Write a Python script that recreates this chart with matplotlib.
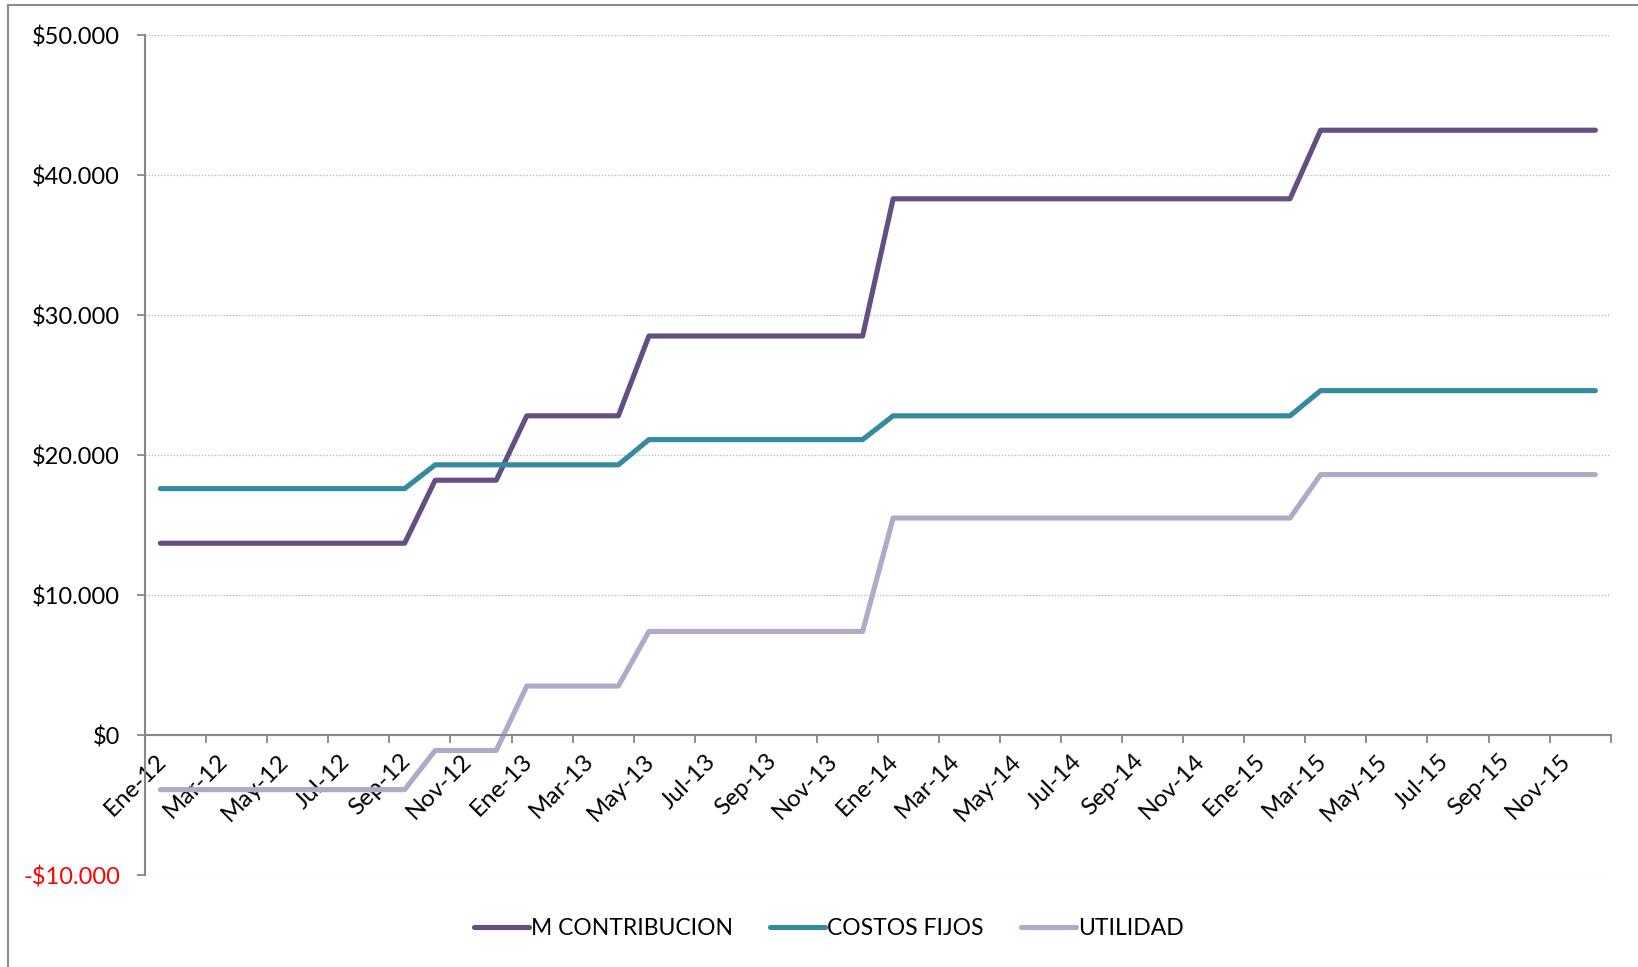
import matplotlib
matplotlib.use("Agg")
import matplotlib.pyplot as plt
from matplotlib.lines import Line2D
from matplotlib.ticker import FuncFormatter
from matplotlib.transforms import ScaledTranslation
import numpy as np

plt.rcParams["font.family"] = ["Lato", "DejaVu Sans"]

MONTHS = ["Ene", "Feb", "Mar", "Abr", "May", "Jun",
          "Jul", "Ago", "Sep", "Oct", "Nov", "Dic"]
YEARS = ["12", "13", "14", "15"]
PERIODS = [f"{m}-{y}" for y in YEARS for m in MONTHS]

M_CONTRIBUCION = [
    13700, 13700, 13700, 13700, 13700, 13700, 13700, 13700, 13700, 18200, 18200, 18200,
    22800, 22800, 22800, 22800, 28500, 28500, 28500, 28500, 28500, 28500, 28500, 28500,
    38300, 38300, 38300, 38300, 38300, 38300, 38300, 38300, 38300, 38300, 38300, 38300,
    38300, 38300, 43200, 43200, 43200, 43200, 43200, 43200, 43200, 43200, 43200, 43200,
]
COSTOS_FIJOS = [
    17600, 17600, 17600, 17600, 17600, 17600, 17600, 17600, 17600, 19300, 19300, 19300,
    19300, 19300, 19300, 19300, 21100, 21100, 21100, 21100, 21100, 21100, 21100, 21100,
    22800, 22800, 22800, 22800, 22800, 22800, 22800, 22800, 22800, 22800, 22800, 22800,
    22800, 22800, 24600, 24600, 24600, 24600, 24600, 24600, 24600, 24600, 24600, 24600,
]
UTILIDAD = [
    -3900, -3900, -3900, -3900, -3900, -3900, -3900, -3900, -3900, -1100, -1100, -1100,
    3500, 3500, 3500, 3500, 7400, 7400, 7400, 7400, 7400, 7400, 7400, 7400,
    15500, 15500, 15500, 15500, 15500, 15500, 15500, 15500, 15500, 15500, 15500, 15500,
    15500, 15500, 18600, 18600, 18600, 18600, 18600, 18600, 18600, 18600, 18600, 18600,
]

SERIES = [
    ("M CONTRIBUCION", M_CONTRIBUCION, "#644f84"),
    ("COSTOS FIJOS", COSTOS_FIJOS, "#358a9f"),
    ("UTILIDAD", UTILIDAD, "#b2a8c8"),
]

AXIS_GREY = "#878787"

fig = plt.figure(figsize=(16.38, 9.67), dpi=100)
ax = fig.add_axes([0.0886, 0.0951, 0.8947, 0.8687])

x = np.arange(len(PERIODS))
for name, vals, color in SERIES:
    ax.plot(x, vals, color=color, lw=3.7, label=name,
            solid_capstyle="round", solid_joinstyle="round")

ax.set_xlim(-0.5, len(PERIODS) - 0.5)
ax.set_ylim(-10000, 50000)

# y axis: $ with thousands dot, negatives in red
ax.set_yticks(np.arange(-10000, 50001, 10000))
ax.yaxis.set_major_formatter(FuncFormatter(
    lambda v, _: ("-$" if v < 0 else "$") + f"{abs(v):,.0f}".replace(",", ".")))
ax.tick_params(axis="y", direction="out", length=6, width=1.3, color=AXIS_GREY,
               labelsize=17, pad=12)
for lab, v in zip(ax.get_yticklabels(), ax.get_yticks()):
    if v < 0:
        lab.set_color("red")
ax.yaxis.grid(True, linestyle=(0, (1, 1.5)), color="#b5b5b5", lw=0.9)

# category axis crossing at zero; tick marks between every second month
ax.spines["bottom"].set_position(("data", 0))
ax.set_xticks(np.arange(-0.5, len(PERIODS), 2), minor=True)
ax.set_xticks(x[::2])
ax.set_xticklabels(PERIODS[::2], rotation=45, ha="right", va="top",
                   rotation_mode="default")
ax.tick_params(axis="x", which="major", length=0, labelsize=17.5, pad=11)
ax.tick_params(axis="x", which="minor", direction="out", length=6, width=1.3,
               color=AXIS_GREY)
shift = ScaledTranslation(7 / 72, 0, fig.dpi_scale_trans)
for lab in ax.get_xticklabels():
    lab.set_transform(lab.get_transform() + shift)

for side in ("top", "right"):
    ax.spines[side].set_visible(False)
for side in ("left", "bottom"):
    ax.spines[side].set_color(AXIS_GREY)
    ax.spines[side].set_linewidth(1.5)
ax.set_axisbelow(True)

fig.legend(loc="center", bbox_to_anchor=(0.506, 0.040), ncol=3, frameon=False,
           fontsize=16.5, handlelength=2.4, handletextpad=0.1,
           columnspacing=1.6)

# chart-area border along the top and left edges
fig.add_artist(Line2D([0.005, 0.005], [0.0, 0.995], transform=fig.transFigure,
                      color="#8c8c8c", lw=1.5))
fig.add_artist(Line2D([0.005, 1.0], [0.995, 0.995], transform=fig.transFigure,
                      color="#8c8c8c", lw=1.5))

fig.savefig("out.png", dpi=100, facecolor="white")
